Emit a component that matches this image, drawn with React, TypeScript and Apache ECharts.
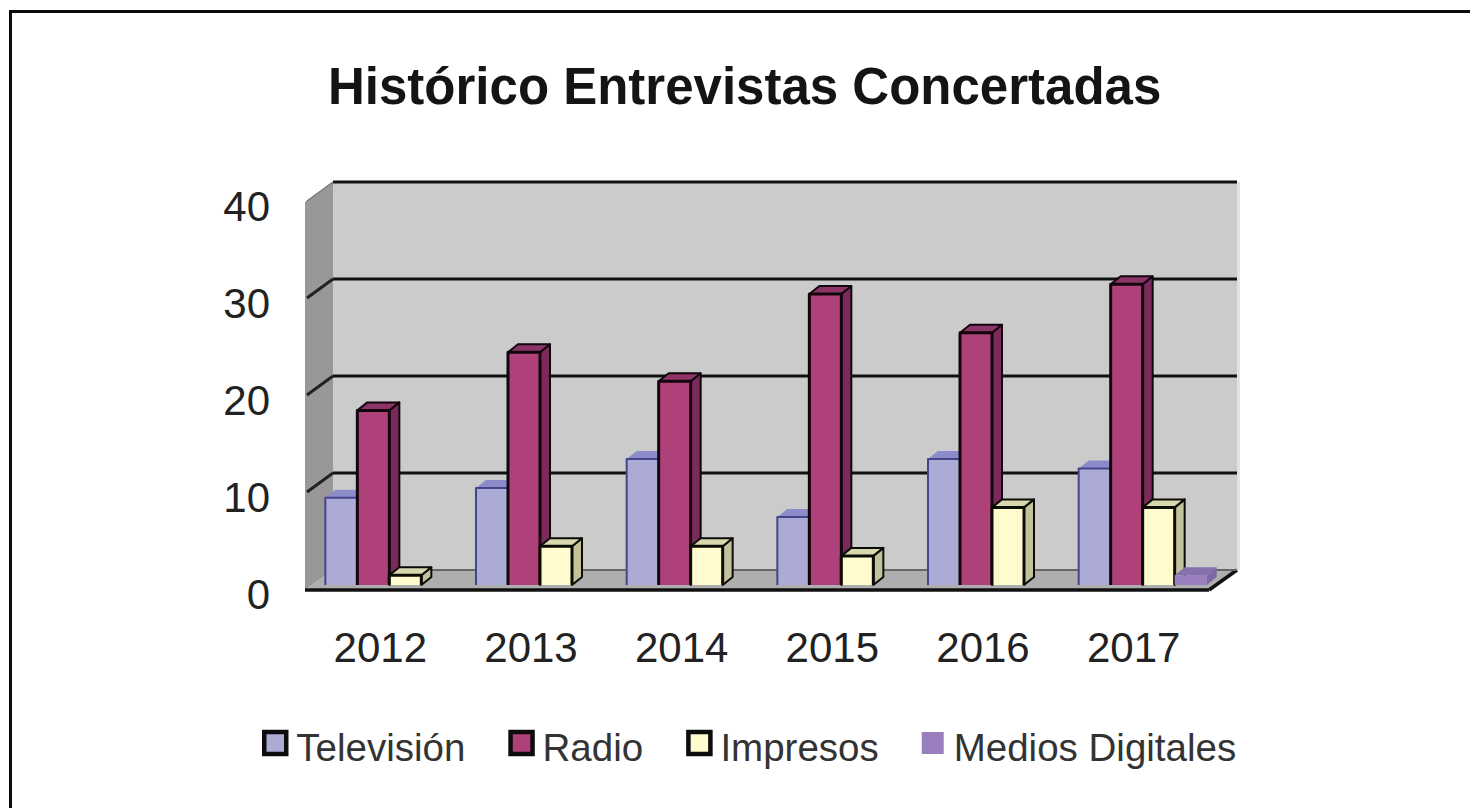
import React, { useEffect, useRef } from "react";
import * as echarts from "echarts";

const titleText = "Histórico Entrevistas Concertadas";
const years = ["2012", "2013", "2014", "2015", "2016", "2017"];
const yTicks = [0, 10, 20, 30, 40];
const television = [9, 10, 13, 7, 13, 12];
const radio = [18, 24, 21, 30, 26, 31];
const impresos = [1, 4, 4, 3, 8, 8];
const mediosDigitales = [0, 0, 0, 0, 0, 1];

const WALL_DX = 28;
const WALL_DY = -20;
const PLANE_DX = 9;
const PLANE_DY = -5;
const BAR_DX = 10;
const BAR_DY = -8;
const BAR_RATIO = 32 / 150.67;

type Look = { front: string; side: string; top: string; stroke: string; sw: number };
const looks: Record<string, Look> = {
  "Televisión": { front: "#ABABD6", side: "#7F7FB8", top: "#8C8CCB", stroke: "#45458A", sw: 2 },
  Radio: { front: "#AE4179", side: "#7A2B5C", top: "#8C3368", stroke: "#12060C", sw: 3 },
  Impresos: { front: "#FFFBCF", side: "#C2C29C", top: "#D8D8AE", stroke: "#0C0C06", sw: 3 },
  "Medios Digitales": { front: "#9A7FBF", side: "#8068A6", top: "#8870AE", stroke: "none", sw: 0 },
};

function barSeries(name: string, values: number[], slot: number) {
  const look = looks[name];
  return {
    name,
    type: "custom",
    z: 3,
    clip: false,
    silent: true,
    itemStyle: { color: look.front },
    encode: { x: 0, y: 1 },
    data: values.map((v, i) => [i, v]),
    renderItem: (_p: any, api: any) => {
      const v = api.value(1);
      if (!v) return { type: "group", children: [] };
      const cat = api.value(0);
      const band = api.size([1, 0])[0];
      const w = band * BAR_RATIO;
      const c = api.coord([cat, 0]);
      const t = api.coord([cat, v]);
      const x0 = c[0] + PLANE_DX - 2 * w + slot * w;
      const x1 = x0 + w;
      const yb = c[1] + PLANE_DY;
      const yt = t[1] + PLANE_DY;
      const outline = { stroke: look.stroke, lineWidth: look.sw, lineJoin: "round" };
      const edgeColor = name === "Televisión" ? "none" : look.stroke;
      return {
        type: "group",
        children: [
          {
            type: "polygon",
            shape: { points: [[x1, yt], [x1 + BAR_DX, yt + BAR_DY], [x1 + BAR_DX, yb + BAR_DY], [x1, yb]] },
            style: { fill: look.side, stroke: edgeColor, lineWidth: 2, lineJoin: "round" },
          },
          {
            type: "polygon",
            shape: { points: [[x0, yt], [x0 + BAR_DX, yt + BAR_DY], [x1 + BAR_DX, yt + BAR_DY], [x1, yt]] },
            style: { fill: look.top, stroke: edgeColor, lineWidth: 2, lineJoin: "round" },
          },
          {
            type: "rect",
            shape: { x: x0, y: yt, width: w, height: yb - yt },
            style: { fill: look.front },
          },
          {
            type: "polyline",
            shape: { points: [[x0, yb], [x0, yt], [x1, yt], [x1, yb]] },
            style: { fill: "none", ...outline },
          },
        ],
      };
    },
  };
}

const wallSeries = {
  name: "walls",
  type: "custom",
  z: 1,
  clip: false,
  silent: true,
  encode: { y: 1 },
  data: yTicks.map((v) => [0, v]),
  renderItem: (params: any, api: any) => {
    const cs = params.coordSys;
    const v = api.value(1);
    const y = api.coord([0, v])[1];
    const l = cs.x;
    const r = cs.x + cs.width;
    const t = cs.y;
    const b = cs.y + cs.height;
    const children: any[] = [];
    if (v === 0) {
      children.push(
        {
          type: "polygon",
          shape: { points: [[l, t], [l + WALL_DX, t + WALL_DY], [l + WALL_DX, b + WALL_DY], [l, b]] },
          style: { fill: "#989898" },
        },
        {
          type: "rect",
          shape: { x: l + WALL_DX, y: t + WALL_DY, width: r - l, height: b - t },
          style: { fill: "#CBCBCB" },
        },
        {
          type: "rect",
          shape: { x: r + WALL_DX, y: t + WALL_DY, width: 3, height: b - t },
          style: { fill: "#E2E2E2" },
        },
        {
          type: "polygon",
          shape: { points: [[l, b], [l + WALL_DX, b + WALL_DY], [r + WALL_DX, b + WALL_DY], [r, b]] },
          style: { fill: "#AEAEAE" },
        },
        {
          type: "line",
          shape: { x1: l, y1: b, x2: r, y2: b },
          style: { stroke: "#111", lineWidth: 3.5 },
        },
        {
          type: "line",
          shape: { x1: r, y1: b, x2: r + WALL_DX, y2: b + WALL_DY },
          style: { stroke: "#111", lineWidth: 3.5 },
        },
        {
          type: "line",
          shape: { x1: l + WALL_DX, y1: b + WALL_DY, x2: r + WALL_DX, y2: b + WALL_DY },
          style: { stroke: "#666", lineWidth: 2 },
        }
      );
    } else {
      children.push(
        {
          type: "line",
          shape: { x1: l + WALL_DX, y1: y + WALL_DY, x2: r + WALL_DX, y2: y + WALL_DY },
          style: { stroke: "#111", lineWidth: 3 },
        },
        {
          type: "line",
          shape: { x1: l + 2, y1: y - 1, x2: l + WALL_DX, y2: y + WALL_DY },
          style: v === 40 ? { stroke: "#777", lineWidth: 1.5 } : { stroke: "#222", lineWidth: 3 },
        }
      );
    }
    return { type: "group", children };
  },
};

export default function App() {
  const ref = useRef<HTMLDivElement>(null);
  useEffect(() => {
    const chart = echarts.init(ref.current!, undefined, { renderer: "svg" });
    const legendBox = (name: string) => ({
      name,
      icon: "rect",
      itemStyle:
        looks[name].stroke === "none"
          ? { color: looks[name].front, borderWidth: 0 }
          : { color: looks[name].front, borderColor: "#0C0C0C", borderWidth: 4.5 },
    });
    chart.setOption({
      animation: false,
      backgroundColor: "#FFFFFF",
      textStyle: { fontFamily: "Liberation Sans" },
      title: {
        text: titleText,
        left: 323,
        top: 56,
        textStyle: { fontFamily: "Liberation Sans", fontSize: 51, fontWeight: "bold", color: "#141414" },
      },
      grid: { left: 305, width: 904, top: 202, height: 388 },
      xAxis: {
        type: "category",
        data: years,
        axisLine: { show: false },
        axisTick: { show: false },
        axisLabel: { fontSize: 42, color: "#222222", margin: 36 },
      },
      yAxis: {
        type: "value",
        min: 0,
        max: 40,
        interval: 10,
        axisLine: { show: false },
        axisTick: { show: false },
        splitLine: { show: false },
        axisLabel: { fontSize: 42, color: "#222222", margin: 35, verticalAlign: "top", lineHeight: 9 },
      },
      legend: {
        left: 257,
        top: 723,
        itemWidth: 22,
        itemHeight: 22,
        itemGap: 43,
        formatter: (name: string) => `{a|${name}}`,
        textStyle: {
          fontFamily: "Liberation Sans",
          fontSize: 38.5,
          color: "#333333",
          padding: [0, 0, 0, 5],
          rich: {
            a: {
              fontFamily: "Liberation Sans",
              fontSize: 38.5,
              color: "#333333",
              padding: [9, 0, 0, 0],
            },
          },
        },
        data: Object.keys(looks).map(legendBox),
      },
      graphic: [
        { type: "rect", shape: { x: 10, y: 10, width: 1470, height: 3 }, style: { fill: "#0A0A0A" }, silent: true },
        { type: "rect", shape: { x: 9, y: 10, width: 3, height: 800 }, style: { fill: "#0A0A0A" }, silent: true },
      ],
      series: [
        wallSeries,
        barSeries("Televisión", television, 0),
        barSeries("Radio", radio, 1),
        barSeries("Impresos", impresos, 2),
        barSeries("Medios Digitales", mediosDigitales, 3),
      ],
    });
    return () => chart.dispose();
  }, []);
  return <div ref={ref} style={{ position: "fixed", left: 0, top: 0, width: 1470, height: 808 }} />;
}
